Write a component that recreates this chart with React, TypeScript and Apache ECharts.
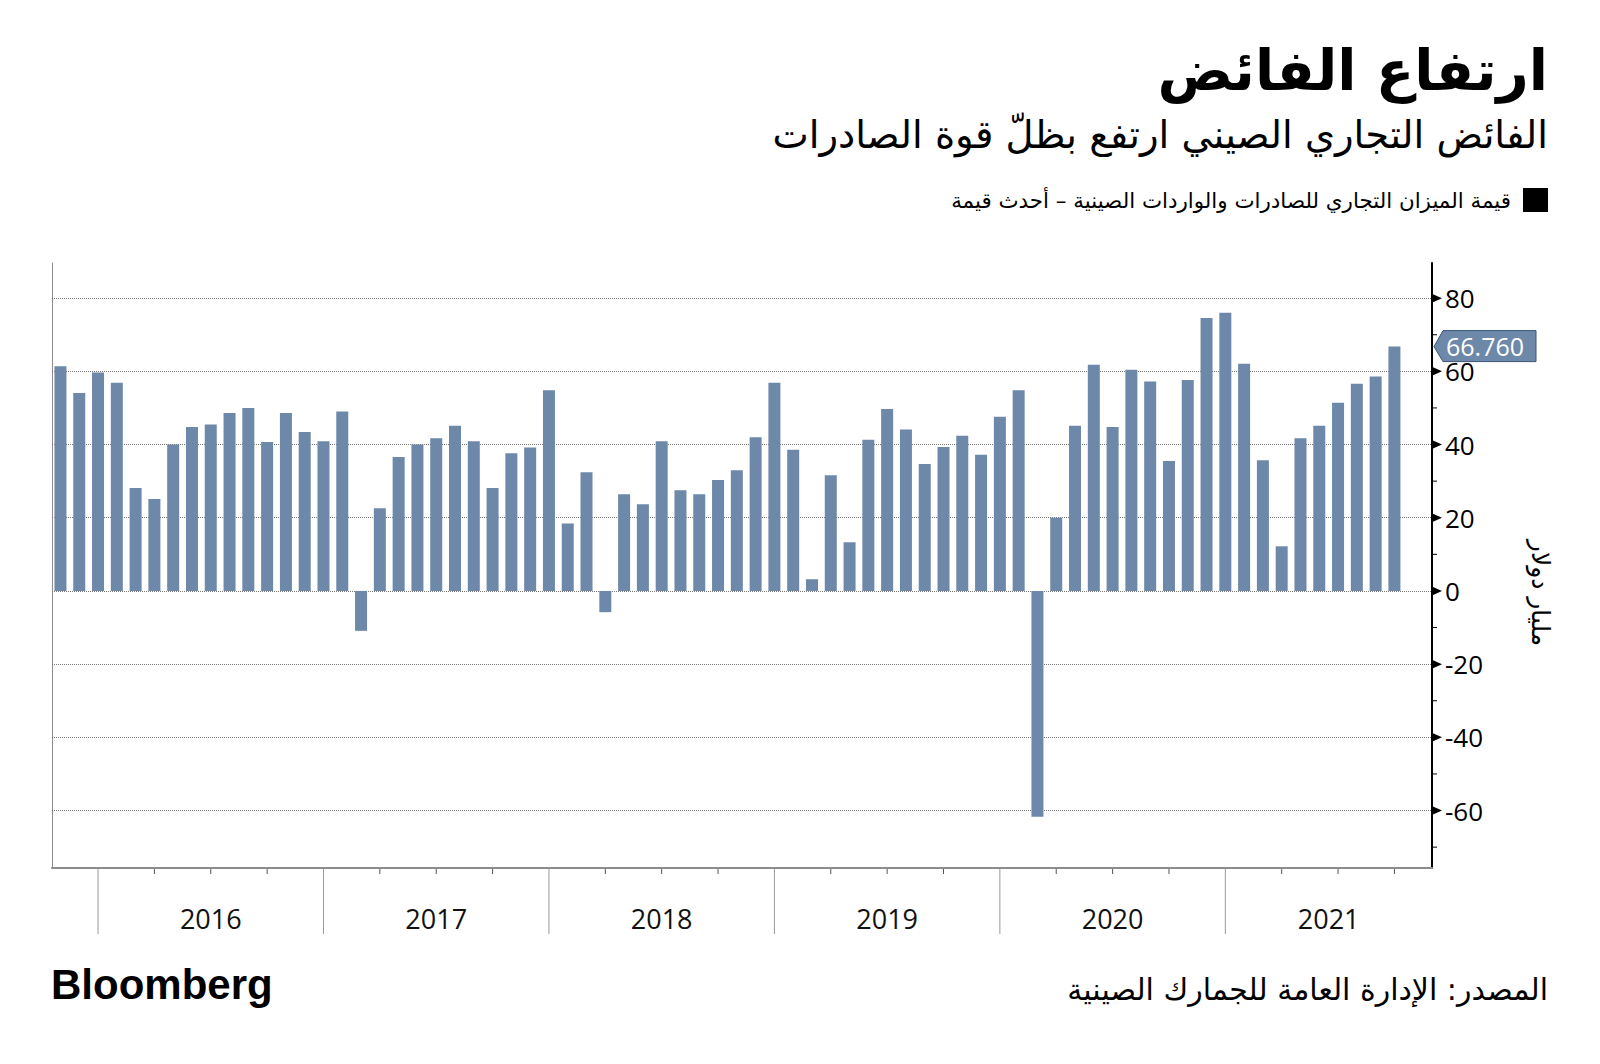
import React, { useEffect, useRef } from "react";
import * as echarts from "echarts";

// Monthly categories (bar positions are their indices)
const MONTHS = [
  "2015-10", "2015-11", "2015-12",
  "2016-01", "2016-02", "2016-03", "2016-04", "2016-05", "2016-06", "2016-07", "2016-08", "2016-09", "2016-10", "2016-11", "2016-12",
  "2017-01", "2017-02", "2017-03", "2017-04", "2017-05", "2017-06", "2017-07", "2017-08", "2017-09", "2017-10", "2017-11", "2017-12",
  "2018-01", "2018-02", "2018-03", "2018-04", "2018-05", "2018-06", "2018-07", "2018-08", "2018-09", "2018-10", "2018-11", "2018-12",
  "2019-01", "2019-02", "2019-03", "2019-04", "2019-05", "2019-06", "2019-07", "2019-08", "2019-09", "2019-10", "2019-11", "2019-12",
  "2020-01", "2020-02", "2020-03", "2020-04", "2020-05", "2020-06", "2020-07", "2020-08", "2020-09", "2020-10", "2020-11", "2020-12",
  "2021-01", "2021-02", "2021-03", "2021-04", "2021-05", "2021-06", "2021-07", "2021-08", "2021-09",
];

// Trade balance, billion USD
const VALUES = [
  61.4, 54.1, 59.7,
  56.9, 28.1, 25.1, 40.0, 44.8, 45.5, 48.6, 50.0, 40.7, 48.6, 43.4, 40.9,
  49.0, -10.9, 22.6, 36.6, 40.0, 41.7, 45.1, 40.9, 28.1, 37.6, 39.2, 54.8,
  18.4, 32.4, -5.8, 26.4, 23.7, 40.9, 27.5, 26.4, 30.3, 33.0, 42.0, 56.9,
  38.6, 3.2, 31.6, 13.3, 41.3, 49.7, 44.1, 34.7, 39.3, 42.4, 37.2, 47.6,
  54.8, -61.7, 20.0, 45.1, 61.8, 44.8, 60.4, 57.2, 35.5, 57.6, 74.6, 76.0,
  62.1, 35.7, 12.2, 41.7, 45.1, 51.4, 56.6, 58.6, 66.76,
];

const YEARS = ["2016", "2017", "2018", "2019", "2020", "2021"];
const Y_GRID = [-60, -40, -20, 0, 20, 40, 60, 80];
const Y_MINOR = [-70, -50, -30, -10, 10, 30, 50, 70];

const TITLE = "ارتفاع الفائض";
const SUBTITLE = "الفائض التجاري الصيني ارتفع بظلّ قوة الصادرات";
const LEGEND = "قيمة الميزان التجاري للصادرات والواردات الصينية – أحدث قيمة";
const UNIT = "مليار دولار";
const SOURCE = "المصدر: الإدارة العامة للجمارك الصينية";

const Y_MIN = -75.7;
const Y_MAX = 89.6;
const X_MIN = -0.45;
const X_MAX = 73;

const BAR_COLOR = "#6e88aa";
const NUM_FONT = '"Open Sans", "Liberation Sans", sans-serif';
const AR_FONT = '"DejaVu Sans", sans-serif';

export default function App() {
  const ref = useRef<HTMLDivElement>(null);

  useEffect(() => {
    const chart = echarts.init(ref.current!, null, { renderer: "svg" });

    const dividers: number[] = [];
    const quarters: number[] = [];
    MONTHS.forEach((m, i) => {
      const mm = m.slice(5);
      if (mm === "12") dividers.push(i);
      else if (mm === "03" || mm === "06" || mm === "09") quarters.push(i);
    });
    const xDecor: number[][] = [];
    quarters.forEach((i) => xDecor.push([i, 0, 0]));
    dividers.forEach((i) => xDecor.push([i, 1, 0]));
    YEARS.forEach((_, k) => {
      const a = dividers[k];
      const b = k + 1 < dividers.length ? dividers[k + 1] : X_MAX;
      xDecor.push([(a + b) / 2, 2, k]);
    });

    const yTicks: number[][] = [
      ...Y_GRID.map((v) => [X_MAX, v, 1]),
      ...Y_MINOR.map((v) => [X_MAX, v, 0]),
    ];
    const last = VALUES[VALUES.length - 1];

    const option: any = {
      animation: false,
      backgroundColor: "#ffffff",
      grid: { left: 52, right: 168, top: 263, bottom: 196, containLabel: false },
      xAxis: {
        type: "value",
        min: X_MIN,
        max: X_MAX,
        axisLine: { show: true, onZero: false, lineStyle: { color: "#8c8c8c", width: 2 } },
        axisTick: { show: false },
        axisLabel: { show: false },
        splitLine: { show: false },
      },
      yAxis: [
        {
          type: "value",
          position: "right",
          min: Y_MIN,
          max: Y_MAX,
          splitNumber: 8,
          axisLine: { show: true, onZero: false, lineStyle: { color: "#000", width: 2 } },
          axisTick: { show: false },
          splitLine: { show: false },
          axisLabel: {
            margin: 13,
            color: "#000",
            fontSize: 26,
            fontFamily: NUM_FONT,
            showMinLabel: false,
            showMaxLabel: false,
            formatter: (v: number) => {
              const r = Math.round(v);
              return Math.abs(v - r) < 1e-6 && r % 20 === 0 ? String(r) : "";
            },
          },
        },
        {
          type: "value",
          position: "left",
          min: Y_MIN,
          max: Y_MAX,
          axisLine: { show: true, onZero: false, lineStyle: { color: "#8c8c8c", width: 1 } },
          axisTick: { show: false },
          axisLabel: { show: false },
          splitLine: { show: false },
        },
      ],
      series: [
        {
          type: "bar",
          name: "balance",
          data: VALUES.map((v, i) => [i, v]),
          barWidth: 12,
          itemStyle: { color: BAR_COLOR },
          z: 3,
          silent: true,
          markLine: {
            silent: true,
            z: 1,
            symbol: ["none", "none"],
            label: { show: false },
            lineStyle: { type: "dotted", color: "#7a7a7a", width: 1 },
            emphasis: { disabled: true },
            data: Y_GRID.map((v) => ({ yAxis: v })),
          },
        },
        {
          type: "custom",
          name: "xdecor",
          silent: true,
          z: 4,
          data: xDecor,
          renderItem: (params: any, api: any) => {
            const x = api.value(0);
            const kind = api.value(1);
            const p = api.coord([x, Y_MIN]);
            if (kind === 0) {
              return {
                type: "line",
                shape: { x1: p[0], y1: p[1] + 1, x2: p[0], y2: p[1] + 6 },
                style: { stroke: "#555", lineWidth: 1 },
              };
            }
            if (kind === 1) {
              return {
                type: "line",
                shape: { x1: p[0], y1: p[1] + 1, x2: p[0], y2: p[1] + 66 },
                style: { stroke: "#9a9a9a", lineWidth: 1 },
              };
            }
            return {
              type: "text",
              x: p[0],
              y: p[1] + 50,
              style: {
                text: YEARS[api.value(2)],
                fill: "#111",
                fontSize: 27,
                fontFamily: NUM_FONT,
                align: "center",
                verticalAlign: "middle",
                textAlign: "center",
                textVerticalAlign: "middle",
              },
            };
          },
        },
        {
          type: "custom",
          name: "yticks",
          silent: true,
          z: 4,
          data: yTicks,
          renderItem: (params: any, api: any) => {
            const p = api.coord([api.value(0), api.value(1)]);
            if (api.value(2) === 1) {
              return {
                type: "polygon",
                shape: { points: [[p[0] + 1, p[1] - 4], [p[0] + 10, p[1]], [p[0] + 1, p[1] + 4]] },
                style: { fill: "#000" },
              };
            }
            return {
              type: "line",
              shape: { x1: p[0], y1: p[1], x2: p[0] + 5, y2: p[1] },
              style: { stroke: "#000", lineWidth: 1 },
            };
          },
        },
        {
          type: "custom",
          name: "tag",
          silent: true,
          z: 10,
          data: [[X_MAX, last]],
          renderItem: (params: any, api: any) => {
            const p = api.coord([api.value(0), api.value(1)]);
            const x0 = p[0];
            const y0 = p[1];
            return {
              type: "group",
              children: [
                {
                  type: "polygon",
                  shape: {
                    points: [
                      [x0 + 2, y0],
                      [x0 + 11, y0 - 16],
                      [x0 + 104, y0 - 16],
                      [x0 + 104, y0 + 15],
                      [x0 + 11, y0 + 15],
                    ],
                  },
                  style: { fill: BAR_COLOR, stroke: "#3c5475", lineWidth: 1 },
                },
                {
                  type: "text",
                  x: x0 + 14,
                  y: y0 - 1,
                  style: {
                    text: last.toFixed(3),
                    fill: "#ffffff",
                    fontSize: 25,
                    fontFamily: NUM_FONT,
                    align: "left",
                    verticalAlign: "middle",
                    textAlign: "left",
                    textVerticalAlign: "middle",
                  },
                },
              ],
            };
          },
        },
      ],
      graphic: [
        {
          type: "text",
          x: 1548,
          y: 70,
          style: {
            text: TITLE,
            fill: "#000",
            fontSize: 56,
            fontWeight: "bold",
            fontFamily: AR_FONT,
            align: "right",
            verticalAlign: "middle",
            textAlign: "right",
            textVerticalAlign: "middle",
          },
        },
        {
          type: "text",
          x: 1548,
          y: 134,
          style: {
            text: SUBTITLE,
            fill: "#000",
            fontSize: 38.5,
            fontFamily: AR_FONT,
            align: "right",
            verticalAlign: "middle",
            textAlign: "right",
            textVerticalAlign: "middle",
          },
        },
        {
          type: "rect",
          shape: { x: 1523, y: 188, width: 25, height: 24 },
          style: { fill: "#000" },
        },
        {
          type: "text",
          x: 1511,
          y: 200,
          style: {
            text: LEGEND,
            fill: "#000",
            fontSize: 21.4,
            fontFamily: AR_FONT,
            align: "right",
            verticalAlign: "middle",
            textAlign: "right",
            textVerticalAlign: "middle",
          },
        },
        {
          type: "text",
          x: 1540,
          y: 593,
          rotation: -Math.PI / 2,
          style: {
            text: UNIT,
            fill: "#000",
            fontSize: 25,
            fontFamily: AR_FONT,
            align: "center",
            verticalAlign: "middle",
            textAlign: "center",
            textVerticalAlign: "middle",
          },
        },
        {
          type: "text",
          x: 51,
          y: 984,
          style: {
            text: "Bloomberg",
            fill: "#000",
            fontSize: 42,
            fontWeight: "bold",
            fontFamily: '"Liberation Sans", Arial, sans-serif',
            align: "left",
            verticalAlign: "middle",
            textAlign: "left",
            textVerticalAlign: "middle",
          },
        },
        {
          type: "text",
          x: 1548,
          y: 989,
          style: {
            text: SOURCE,
            fill: "#000",
            fontSize: 30,
            fontFamily: AR_FONT,
            align: "right",
            verticalAlign: "middle",
            textAlign: "right",
            textVerticalAlign: "middle",
          },
        },
      ],
    };

    chart.setOption(option);
    return () => chart.dispose();
  }, []);

  return (
    <div
      ref={ref}
      style={{ position: "fixed", left: 0, top: 0, width: 1600, height: 1064, background: "#fff" }}
    />
  );
}
